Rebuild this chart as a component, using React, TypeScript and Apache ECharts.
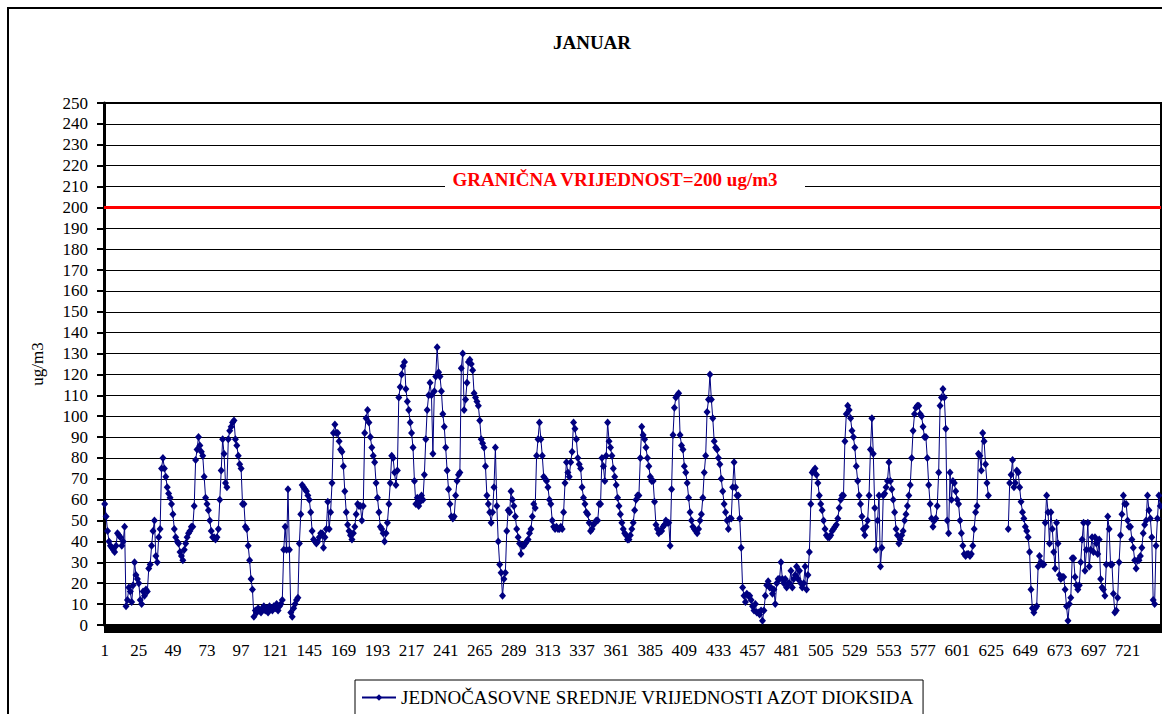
import React, { useEffect, useRef } from "react";
import * as echarts from "echarts";

const TITLE = "JANUAR";
const Y_NAME = "ug/m3";
const SERIES_NAME = "JEDNOČASOVNE SREDNJE VRIJEDNOSTI AZOT DIOKSIDA";
const LIMIT_LABEL = "GRANIČNA VRIJEDNOST=200 ug/m3";
const LIMIT_VALUE = 200;
const Y_MIN = 0;
const Y_MAX = 250;
const Y_STEP = 10;
const HOURS_IN_MONTH = 744;
const HOURS = Array.from({ length: HOURS_IN_MONTH }, (_, i) => String(i + 1));

// hourly NO2 means ("-" = no data)
const week1 = [
  58, 52, 45, 40, 38, 37, 36, 35, 38, 44, 43, 42, 38, 40, 47, 9, 12, 18, 16, 11, 19, 30, 24, 22,
  20, 12, 10, 16, 14, 17, 16, 27, 29, 38, 45, 50, 33, 30, 42, 46, 75, 80, 75, 71, 66, 63, 61, 58,
  53, 46, 42, 40, 39, 35, 33, 31, 36, 39, 42, 44, 45, 47, 47, 57, 79, 84, 90, 86, 83, 81, 71, 61,
  58, 55, 50, 45, 42, 42, 41, 42, 46, 60, 74, 89, 82, 68, 66, 89, 93, 95, 97, 98, 89, 86, 81, 77,
  75, 58, 58, 47, 46, 38, 31, 22, 17, 4, 7, 6, 8, 7, 6, 8, 9, 7, 8, 6, 9, 8, 7, 9,
  8, 10, 7, 9, 10, 12, 36, 47, 36, 65, 36, 6, 4, 8, 10, 12, 13, 39, 53, 67, 66, 65, 64, 62,
  60, 54, 45, 41, 40, 39, 40, 42, 44, 44, 37, 42, 46, 59, 46, 54, 68, 92, 96, 92, 92, 88, 84, 83,
];
const week2 = [
  76, 64, 54, 48, 45, 43, 41, 44, 47, 53, 58, 57, 57, 50, 57, 92, 99, 103, 97, 90, 85, 81, 78, 68,
  61, 54, 47, 46, 44, 40, 44, 49, 58, 68, 81, 80, 73, 67, 74, 109, 114, 120, 124, 126, 113, 107, 103, 97,
  92, 85, 69, 58, 61, 57, 59, 62, 60, 72, 89, 103, 110, 116, 110, 82, 112, 119, 133, 121, 119, 112, 101, 95,
  85, 74, 65, 58, 52, 51, 52, 62, 69, 72, 73, 123, 130, 103, 108, 116, 126, 127, 125, 122, 111, 109, 107, 105,
  98, 89, 87, 85, 76, 62, 58, 54, 49, 54, 66, 85, 57, 40, 29, 25, 14, 22, 25, 45, 55, 54, 64, 60,
  57, 52, 46, 42, 39, 34, 38, 38, 39, 40, 41, 44, 46, 52, 58, 56, 81, 89, 97, 89, 81, 71, 70, 69,
  66, 60, 58, 50, 47, 46, 47, 46, 46, 47, 46, 54, 68, 78, 73, 71, 78, 83, 97, 94, 89, 80, 77, 75,
];
const week3 = [
  66, 61, 58, 54, 53, 49, 45, 46, 48, 49, 50, 50, 58, 58, 80, 76, 69, 81, 97, 88, 85, 81, 75, 71,
  67, 61, 57, 53, 49, 46, 44, 43, 41, 41, 43, 46, 49, 55, 60, 62, 62, 80, 95, 91, 89, 85, 80, 76,
  71, 69, 69, 59, 48, 46, 44, 45, 45, 47, 48, 50, 49, 49, 38, 65, 91, 104, 109, 110, 111, 91, 86, 84,
  76, 73, 68, 61, 54, 50, 47, 46, 45, 44, 46, 50, 53, 61, 73, 81, 102, 108, 120, 108, 99, 88, 85, 84,
  80, 77, 70, 64, 58, 54, 50, 46, 51, 51, 66, 78, 66, 62, 62, 51, 37, 18, 14, 11, 15, 14, 14, 12,
  9, 7, 10, 6, 6, 5, 7, 2, 7, 14, 19, 21, 18, 18, 15, 17, 10, 20, 22, 22, 30, 22, 20, 22,
  18, 20, 20, 26, 18, 22, 24, 28, 22, 26, 20, 18, 20, 28, 17, 24, 35, 58, 73, 74, 75, 72, 68, 62,
];
const week4 = [
  58, 55, 50, 46, 43, 42, 42, 43, 45, 46, 47, 48, 51, 56, 60, 62, 62, 88, 101, 105, 103, 99, 93, 90,
  85, 76, 69, 62, 58, 52, 46, 43, 47, 50, 62, 84, 99, 82, 56, 36, 50, 62, 28, 37, 62, 63, 66, 69,
  78, 69, 65, 60, 54, 46, 43, 39, 41, 43, 45, 50, 53, 57, 62, 67, 80, 93, 101, 104, 105, 105, 101, 100,
  95, 90, 90, 80, 67, 58, 51, 47, 50, 51, 57, 73, 105, 109, 113, 109, 94, 50, 44, 73, 60, 69, 68, 64,
  60, 58, 50, 44, 38, 34, 33, 34, 34, 33, 34, 38, 46, 54, 57, 82, 81, 74, 92, 88, 77, 68, 62, "-",
  "-", "-", "-", "-", "-", "-", "-", "-", "-", "-", "-", "-", 46, 68, 72, 79, 66, 68, 74, 73, 66, 59, 54, 51,
  47, 45, 42, 35, 17, 8, 6, 8, 9, 28, 33, 30, 29, 29, 49, 62, 54, 39, 54, 46, 35, 27, 49, 39,
];
const lastDays = [
  24, 22, 23, 23, 17, 9, 2, 10, 13, 32, 32, 23, 19, 17, 19, 30, 41, 49, 26, 36, 49, 28, 36, 42,
  35, 42, 39, 34, 41, 22, 18, 17, 14, 29, 52, 46, 29, 29, 15, 6, 7, 13, 30, 43, 53, 62, 58, 58,
  50, 47, 47, 41, 37, 31, 27, 31, 31, 33, 37, 44, 48, 50, 62, 55, 51, 42, 12, 10, 38, 51, 62, 57,
];

const NO2 = [...week1, ...week2, ...week3, ...week4, ...lastDays];

const FONT = "Liberation Serif";

export default function App() {
  const ref = useRef<HTMLDivElement>(null);

  useEffect(() => {
    if (!ref.current) return;
    const chart = echarts.init(ref.current, undefined, { renderer: "svg" });
    chart.setOption({
      animation: false,
      backgroundColor: "#ffffff",
      textStyle: { fontFamily: FONT, color: "#000" },
      grid: {
        left: 104,
        right: 1,
        top: 103,
        bottom: 89,
        show: true,
        borderColor: "#000",
        borderWidth: 2,
        containLabel: false,
      },
      legend: {
        data: [SERIES_NAME],
        left: 355,
        top: 680,
        orient: "horizontal",
        borderColor: "#000",
        borderWidth: 1,
        padding: [8, 8, 8, 6],
        itemWidth: 34,
        itemHeight: 8,
        textStyle: { fontFamily: FONT, fontSize: 19, color: "#000" },
      },
      xAxis: {
        type: "category",
        data: HOURS,
        boundaryGap: true,
        axisLine: { lineStyle: { color: "#000", width: 2 } },
        axisTick: { interval: 0, length: 8, lineStyle: { color: "#000", width: 1 } },
        axisLabel: {
          interval: 23,
          fontFamily: FONT,
          fontSize: 17,
          color: "#000",
          margin: 17,
        },
        splitLine: { show: false },
      },
      yAxis: {
        type: "value",
        min: Y_MIN,
        max: Y_MAX,
        interval: Y_STEP,
        name: Y_NAME,
        nameLocation: "middle",
        nameGap: 58,
        nameRotate: 90,
        nameTextStyle: { fontFamily: FONT, fontSize: 17, color: "#000" },
        axisLine: { show: true, lineStyle: { color: "#000", width: 3 } },
        axisTick: { show: true, length: 7, lineStyle: { color: "#000", width: 2 } },
        axisLabel: { fontFamily: FONT, fontSize: 17, color: "#000", margin: 16 },
        splitLine: { show: true, lineStyle: { color: "#000", width: 1 } },
      },
      series: [
        {
          name: SERIES_NAME,
          type: "line",
          data: NO2,
          color: "#000080",
          symbol: "diamond",
          symbolSize: [7, 8],
          showSymbol: true,
          showAllSymbol: true,
          connectNulls: false,
          lineStyle: { color: "#000080", width: 1 },
          itemStyle: { color: "#000080" },
          markLine: {
            silent: true,
            symbol: "none",
            label: { show: false },
            lineStyle: { color: "#ff0000", width: 3, type: "solid" },
            data: [{ yAxis: LIMIT_VALUE }],
          },
        },
      ],
      graphic: [
        {
          type: "rect",
          shape: { x: 8, y: 8, width: 1180, height: 740 },
          style: { fill: "none", stroke: "#000", lineWidth: 2 },
          z: 1,
          silent: true,
        },
        {
          type: "rect",
          shape: { x: 104, y: 625, width: 1060, height: 8 },
          style: { fill: "#000" },
          z: 3,
          silent: true,
        },
        {
          type: "text",
          x: 592,
          y: 42,
          style: {
            text: TITLE,
            fill: "#000",
            font: `bold 19px ${FONT}`,
            textAlign: "center",
            textVerticalAlign: "middle",
          },
          z: 10,
        },
        {
          type: "rect",
          shape: { x: 445, y: 168, width: 360, height: 22 },
          style: { fill: "#fff" },
          z: 10,
          silent: true,
        },
        {
          type: "text",
          x: 615,
          y: 179,
          style: {
            text: LIMIT_LABEL,
            fill: "#ff0000",
            font: `bold 19px ${FONT}`,
            textAlign: "center",
            textVerticalAlign: "middle",
          },
          z: 11,
        },
      ],
    });
    return () => chart.dispose();
  }, []);

  return (
    <div
      ref={ref}
      style={{ position: "fixed", left: 0, top: 0, width: 1162, height: 714 }}
    />
  );
}
